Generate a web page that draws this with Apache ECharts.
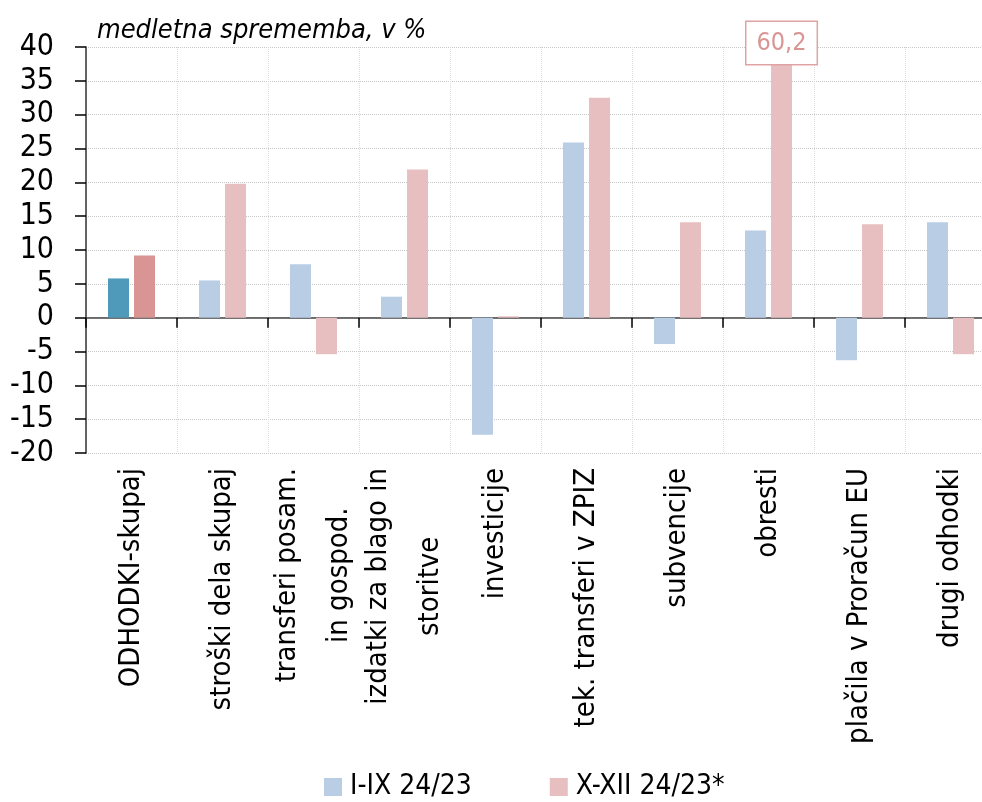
<!DOCTYPE html>
<html>
<head>
<meta charset="utf-8">
<script src="https://cdn.jsdelivr.net/npm/echarts@6/dist/echarts.min.js"></script>
<style>
html,body{margin:0;padding:0;background:#fff;}
#main{width:982px;height:802px;}
</style>
</head>
<body>
<div id="main"></div>
<script>
// ---- data ----
var categories = [
  'ODHODKI-skupaj',
  'stroški dela skupaj',
  'transferi posam.\nin gospod.',
  'izdatki za blago in\nstoritve',
  'investicije',
  'tek. transferi v ZPIZ',
  'subvencije',
  'obresti',
  'plačila v Proračun EU',
  'drugi odhodki'
];
var seriesNames = ['I-IX 24/23', 'X-XII 24/23*'];
var valuesIIX = [5.8, 5.5, 7.9, 3.1, -17.3, 25.9, -3.9, 12.9, -6.3, 14.1];
var valuesXXII = [9.2, 19.8, -5.4, 21.9, 0.2, 32.5, 14.1, 60.2, 13.8, -5.4];
var yTicks = {min: -20, max: 40, interval: 5};
var titleText = 'medletna sprememba, v %';

// ---- styles ----
var FONT = "'DejaVu Sans Condensed', 'Liberation Sans Narrow', sans-serif";
var lightBlue = '#b9cde5', lightRed = '#e8bfc0';
var darkBlue = '#4f9aba', darkRed = '#d99494';

function buildData(vals, dark, isRed) {
  return vals.map(function (v, i) {
    var item = {value: v};
    if (i === 0) item.itemStyle = {color: dark};
    if (isRed && v > yTicks.max) {
      item.label = {
        show: true,
        position: ['50%', -4],
        align: 'center',
        verticalAlign: 'middle',
        formatter: String(v).replace('.', ','),
        fontFamily: FONT,
        fontSize: 25,
        color: '#d99494',
        backgroundColor: '#fff',
        borderColor: '#e0a3a3',
        borderWidth: 1.5,
        padding: [9, 10, 8, 10]
      };
    }
    return item;
  });
}

var chart = echarts.init(document.getElementById('main'));
chart.setOption({
  animation: false,
  backgroundColor: '#fff',
  title: {
    text: titleText,
    left: 92,
    top: 12,
    textStyle: {fontFamily: FONT, fontStyle: 'italic', fontWeight: 'normal', fontSize: 27, color: '#000'}
  },
  legend: {
    left: 324,
    top: 773,
    padding: 0,
    itemWidth: 18,
    itemHeight: 18,
    itemGap: 78,
    icon: 'rect',
    textStyle: {fontFamily: FONT, fontSize: 28, color: '#000', padding: [0, 0, 0, 3]},
    data: seriesNames
  },
  grid: {left: 86, top: 47, right: -14, bottom: 349, containLabel: false, outerBoundsMode: 'none'},
  xAxis: {
    type: 'category',
    data: categories,
    axisLine: {onZero: true, lineStyle: {color: '#444', width: 1.5}},
    axisTick: {show: true, length: 10, lineStyle: {color: '#000', width: 1.5}},
    splitLine: {show: true, interval: 0, lineStyle: {color: '#ddd', type: 'dotted', width: 1}},
    axisLabel: {
      interval: 0,
      rotate: 90,
      margin: 15,
      color: '#000',
      formatter: function (v) {
        return v.split('\n').map(function (l) { return '{a|' + l + '}'; }).join('\n');
      },
      rich: {
        a: {align: 'center', fontFamily: FONT, fontSize: 29, lineHeight: 52, color: '#000'}
      }
    }
  },
  yAxis: {
    type: 'value',
    min: yTicks.min,
    max: yTicks.max,
    interval: yTicks.interval,
    axisLine: {show: true, lineStyle: {color: '#333', width: 1.5}},
    axisTick: {show: true, length: 11, lineStyle: {color: '#000', width: 1.5}},
    splitLine: {show: true, lineStyle: {color: '#c8c8c8', type: 'dotted', width: 1}},
    axisLabel: {margin: 32, fontFamily: FONT, fontSize: 30, color: '#000'}
  },
  series: [
    {
      name: seriesNames[0],
      type: 'bar',
      barWidth: 21,
      barGap: '24%',
      itemStyle: {color: lightBlue},
      data: buildData(valuesIIX, darkBlue, false)
    },
    {
      name: seriesNames[1],
      type: 'bar',
      barWidth: 21,
      barGap: '24%',
      clip: true,
      itemStyle: {color: lightRed},
      data: buildData(valuesXXII, darkRed, true)
    }
  ]
});
</script>
</body>
</html>
